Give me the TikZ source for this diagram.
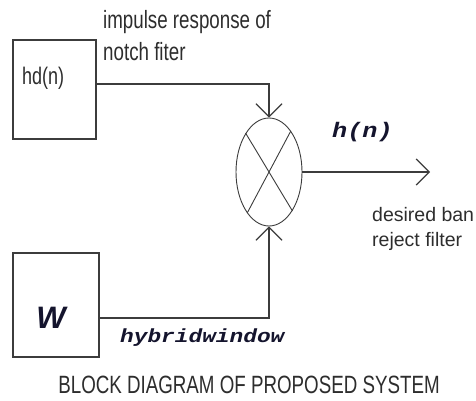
\documentclass[tikz,border=0pt]{standalone}
\usepackage{fontspec}
\setmainfont{Liberation Sans}
\newfontfamily\narrowsans[FakeStretch=0.75,Ligatures=NoCommon]{Liberation Sans}
\newfontfamily\sigfont[FakeStretch=1.2]{Liberation Mono}
\usetikzlibrary{shapes,shapes.geometric,arrows.meta,calc,positioning}
\definecolor{wire}{RGB}{60,60,60}
\definecolor{ink}{RGB}{45,45,45}
\definecolor{sigink}{RGB}{20,20,45}
\tikzset{blk/.style={draw=wire,line width=1.6pt,inner sep=0pt},
  lbl/.style={inner sep=0pt,text=ink},
  sig/.style={inner sep=0pt,text=sigink,font=\sigfont\bfseries\itshape\fontsize{19}{22}\selectfont},
  wirearr/.style={draw=wire,line width=1.6pt,-{Straight Barb[length=13pt,width=26pt,line width=1.2pt]}}}

\begin{document}
\begin{tikzpicture}[x=1pt, y=-1pt]
\useasboundingbox (0,0) rectangle (476,400);
\clip (0,0) rectangle (476,400);
\node[blk, minimum width=83pt, minimum height=99pt] (hd) at (54.5,89.5){};
\node[lbl, anchor=base west, font=\narrowsans\fontsize{24}{28}\selectfont] (hdtxt) at (22,84){hd(n)};
\node[blk, minimum width=86pt, minimum height=104pt] (win) at (56,305){};
\node[lbl, text=sigink, font=\bfseries\itshape\fontsize{31}{34}\selectfont] (wtxt) at (51,318){W};
\node[draw=wire, line width=0.9pt, ellipse, minimum width=66pt, minimum height=108pt, inner sep=0pt] (mul) at (269,172){};
\draw[draw=wire, line width=0.9pt] (mul.121) -- (mul.301) (mul.62) -- (mul.242);
\coordinate (j1) at (269,84);
\coordinate (j2) at (269,318);
\coordinate (out) at (430,172);
\path[wirearr] (hd.east |- j1) -- (j1) -- (mul.north);
\path[wirearr] (win.east |- j2) -- (j2) -- (mul.south);
\path[wirearr] (mul.east) -- (out);
\node[lbl, anchor=north west, align=left, font=\narrowsans\fontsize{25}{32}\selectfont] (imp) at (103,10){impulse response of\\notch fiter};
\node[sig, anchor=base west, font=\sigfont\bfseries\itshape\fontsize{21}{24}\selectfont] (hn) at (332,137){h(n)};
\node[lbl, anchor=north west, align=left, font=\fontsize{19.5}{25}\selectfont] (des) at (372,207){desired ban\\reject filter};
\node[sig, anchor=base west] (hw) at (120,342){hybridwindow};
\node[lbl, anchor=base, font=\narrowsans\fontsize{25}{30}\selectfont] (cap) at (249,393){BLOCK DIAGRAM OF PROPOSED SYSTEM};
\end{tikzpicture}
\end{document}
